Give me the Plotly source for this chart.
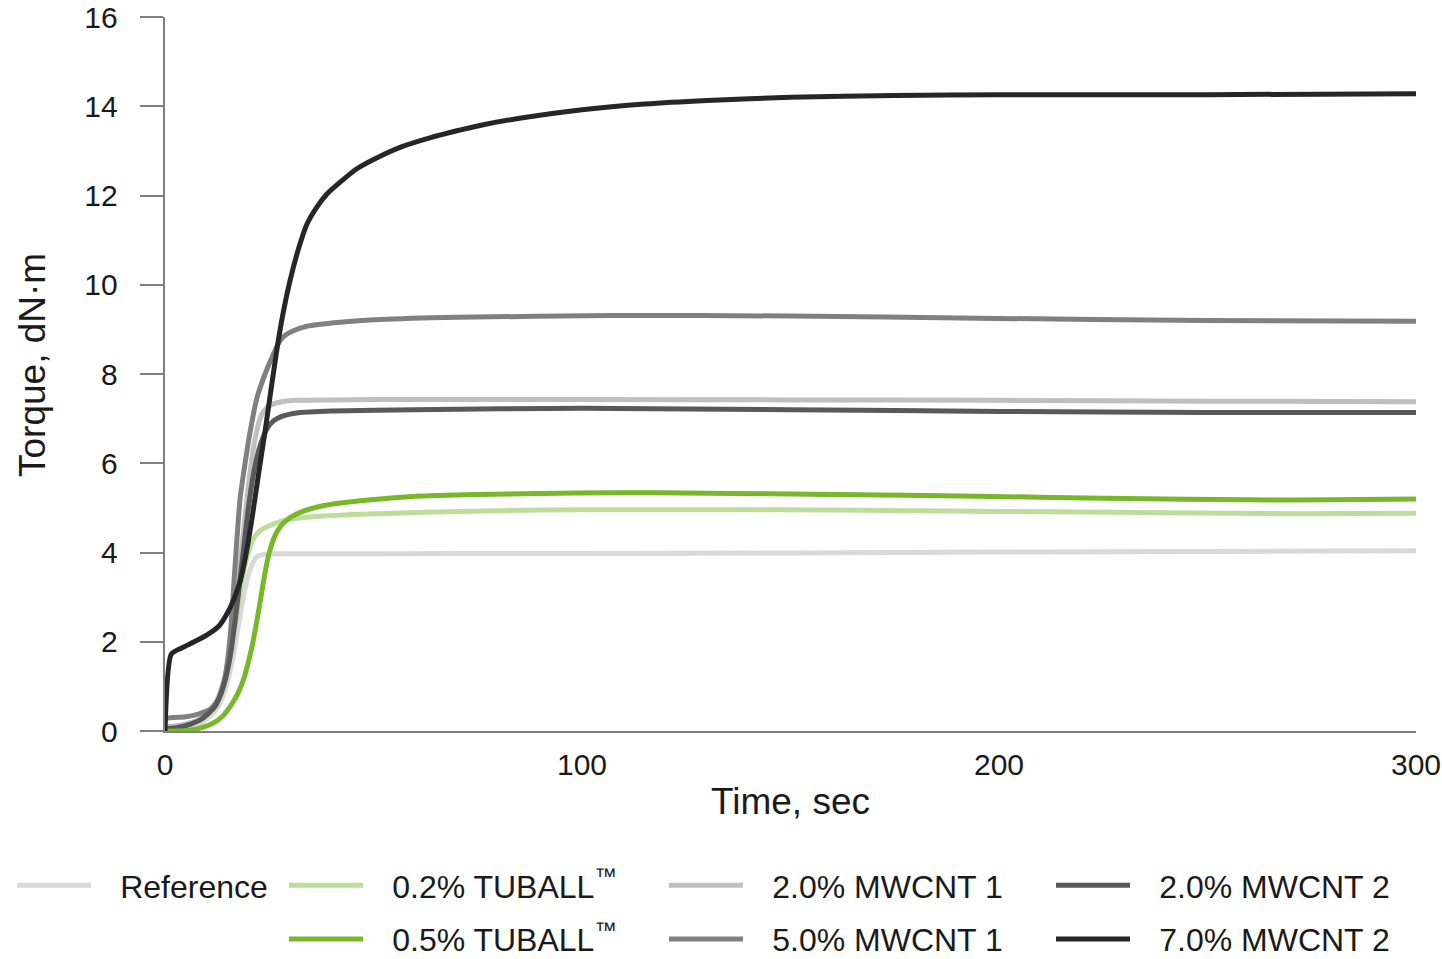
import plotly.graph_objects as go

# ---- data ----
ref_t = [0, 3, 6, 9, 12, 14, 16, 17.5, 19, 20.5, 22, 24, 27, 35, 50, 100, 150, 200, 250, 300]
ref_v = [0, 0.05, 0.1, 0.2, 0.45, 0.8, 1.5, 2.3, 3.1, 3.65, 3.9, 3.96, 3.97, 3.97, 3.97, 3.98, 3.99, 4.01, 4.02, 4.04]

tb02_t = [0, 3, 6, 9, 12, 14, 15.5, 17, 18.5, 20, 21.5, 23, 25, 28, 32, 37, 45, 55, 70, 90, 110, 130, 160, 200, 240, 270, 300]
tb02_v = [0, 0.08, 0.15, 0.28, 0.55, 1.0, 1.6, 2.5, 3.4, 4.0, 4.35, 4.5, 4.6, 4.7, 4.77, 4.81, 4.85, 4.88, 4.92, 4.95, 4.96, 4.96, 4.95, 4.92, 4.89, 4.87, 4.88]

tb05_t = [0, 3, 6, 9, 12, 14, 16, 17.5, 19, 20, 21, 22, 23, 24, 25, 26.5, 28, 30, 33, 37, 43, 51.6, 60, 75, 90, 107, 130, 160, 195, 230, 260, 280, 300]
tb05_v = [0, 0.0, 0.02, 0.08, 0.2, 0.35, 0.6, 0.85, 1.2, 1.55, 1.95, 2.45, 3.0, 3.55, 4.0, 4.4, 4.62, 4.78, 4.92, 5.03, 5.12, 5.2, 5.26, 5.3, 5.32, 5.34, 5.33, 5.3, 5.26, 5.21, 5.18, 5.18, 5.2]

m1_20_t = [0, 3, 6, 9, 12, 14, 15.5, 17, 18.5, 20, 21.5, 23, 24.5, 26, 28, 32, 40, 60, 100, 150, 200, 250, 300]
m1_20_v = [0.1, 0.12, 0.18, 0.3, 0.6, 1.1, 1.8, 2.9, 4.2, 5.5, 6.5, 7.05, 7.25, 7.33, 7.38, 7.41, 7.42, 7.43, 7.43, 7.42, 7.41, 7.39, 7.38]

m1_50_t = [0, 2, 5, 8, 11, 13, 14.5, 15.7, 16.8, 18, 19.2, 20.4, 22, 24, 26, 27.6, 29, 30.8, 34, 42, 51.6, 70, 107, 150, 195, 250, 300]
m1_50_v = [0.28, 0.3, 0.32, 0.38, 0.5, 0.75, 1.25, 2.2, 3.7, 5.2, 6.0, 6.7, 7.45, 8.0, 8.45, 8.75, 8.88, 8.97, 9.07, 9.16, 9.22, 9.27, 9.31, 9.3, 9.25, 9.2, 9.18]

m2_20_t = [0, 3, 6, 9, 12, 14, 15.5, 17, 18.5, 20, 21.5, 23, 24.5, 26, 28, 32, 40, 60, 100, 150, 200, 250, 300]
m2_20_v = [0.05, 0.08, 0.15, 0.28, 0.55, 1.0, 1.6, 2.6, 3.8, 5.0, 5.9, 6.45, 6.78, 6.95, 7.05, 7.13, 7.17, 7.2, 7.23, 7.2, 7.16, 7.14, 7.14]

m2_70_t = [0, 1.5, 4, 7, 10, 13, 15, 16.5, 18, 19.5, 21, 22.5, 24, 25.5, 27, 28.5, 30, 32, 34, 36.5, 39, 42, 46, 51.6, 57, 63.5, 70, 75.5, 85, 100, 115, 130, 150, 175, 200, 250, 300]
m2_70_v = [0, 1.72, 1.86, 2.0, 2.15, 2.36, 2.65, 2.95, 3.35, 4.0, 4.85, 5.8, 6.72, 7.7, 8.65, 9.45, 10.1, 10.8, 11.35, 11.75, 12.05, 12.3, 12.6, 12.88, 13.1, 13.29, 13.45, 13.57, 13.73, 13.92, 14.05, 14.13, 14.2, 14.24, 14.26, 14.26, 14.28]

x_ticks = [0, 100, 200, 300]
y_ticks = [0, 2, 4, 6, 8, 10, 12, 14, 16]

x_title = "Time, sec"
y_title = "Torque, dN·m"

series = [
    # name, t, v, color, legend
    ("Reference", ref_t, ref_v, "#d9d9d9", "legend"),
    ("0.2% TUBALL<sup>™</sup>", tb02_t, tb02_v, "#bddd9b", "legend2"),
    ("2.0% MWCNT 1", m1_20_t, m1_20_v, "#bfbfbf", "legend3"),
    ("5.0% MWCNT 1", m1_50_t, m1_50_v, "#808080", "legend3"),
    ("2.0% MWCNT 2", m2_20_t, m2_20_v, "#595959", "legend4"),
    ("0.5% TUBALL<sup>™</sup>", tb05_t, tb05_v, "#77b72a", "legend2"),
    ("7.0% MWCNT 2", m2_70_t, m2_70_v, "#262626", "legend4"),
]

legend_rank = {"Reference": 1, "0.2% TUBALL<sup>™</sup>": 1, "0.5% TUBALL<sup>™</sup>": 2,
               "2.0% MWCNT 1": 1, "5.0% MWCNT 1": 2, "2.0% MWCNT 2": 1, "7.0% MWCNT 2": 2}

PAD = "\u00a0\u00a0\u2009"

fig = go.Figure()
for name, t, v, color, lg in series:
    fig.add_trace(go.Scatter(
        x=t, y=v, mode="lines", name=PAD + name,
        line=dict(color=color, width=5, shape="spline", smoothing=0.6),
        legend=lg, legendgroup=name, legendrank=legend_rank[name],
        showlegend=True,
    ))

font_family = "Liberation Sans, Arial, sans-serif"
text_color = "#1a1a1a"
axis_color = "#7f7f7f"

leg_common = dict(
    orientation="v", xref="container", yref="container",
    xanchor="left", yanchor="top",
    font=dict(family=font_family, size=32, color=text_color),
    bgcolor="rgba(0,0,0,0)", borderwidth=0,
    tracegroupgap=9, itemwidth=74, traceorder="grouped",
)

LEG_TOP = 858

fig.update_layout(
    width=1442, height=959,
    showlegend=True,
    margin=dict(l=165, r=26, t=17, b=228, autoexpand=False),
    paper_bgcolor="white", plot_bgcolor="white",
    font=dict(family=font_family, size=30, color=text_color),
    xaxis=dict(
        range=[0, 300], tickvals=x_ticks, ticktext=[str(v) for v in x_ticks],
        showgrid=False, zeroline=False, showline=True, linecolor=axis_color, linewidth=1.5,
        ticks="", ticklabelstandoff=6, ticklabeloverflow="allow",
        title=dict(text=x_title, font=dict(size=37, color=text_color), standoff=8),
        tickfont=dict(size=30, color=text_color),
    ),
    yaxis=dict(
        range=[0, 16], tickvals=y_ticks, ticktext=[str(v) + "\u00a0\u00a0" for v in y_ticks],
        showgrid=False, zeroline=False, showline=True, linecolor=axis_color, linewidth=1.5,
        ticks="outside", ticklen=23, tickwidth=1.5, tickcolor=axis_color,
        ticklabeloverflow="allow",
        tickfont=dict(size=30, color=text_color),
    ),
    annotations=[dict(
        text=y_title, textangle=-90, showarrow=False,
        xref="paper", yref="paper", x=(32 - 165) / 1251, y=(731 - 365) / 714,
        xanchor="center", yanchor="middle",
        font=dict(family=font_family, size=37, color=text_color),
    )],
    legend=dict(x=12 / 1442, y=1 - LEG_TOP / 959, **leg_common),
    legend2=dict(x=284 / 1442, y=1 - LEG_TOP / 959, **leg_common),
    legend3=dict(x=664 / 1442, y=1 - LEG_TOP / 959, **leg_common),
    legend4=dict(x=1051 / 1442, y=1 - LEG_TOP / 959, **leg_common),
)

fig.write_html("out.html", config={"displayModeBar": False},
               post_script="document.body.style.margin='0';")
